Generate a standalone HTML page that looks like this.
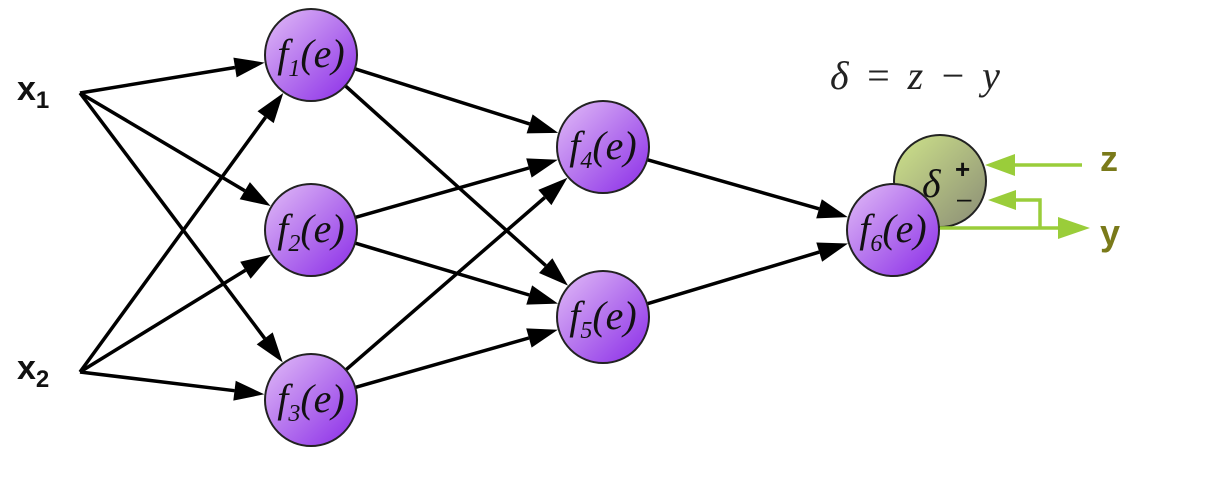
<!DOCTYPE html>
<html><head><meta charset="utf-8"><style>
html,body{margin:0;padding:0;background:#fff;width:1210px;height:482px;overflow:hidden}
</style></head><body>
<svg width="1210" height="482" xmlns="http://www.w3.org/2000/svg">
<defs>
<linearGradient id="pg" x1="0" y1="0" x2="1" y2="1">
<stop offset="0" stop-color="#e2bdf7"/><stop offset="0.5" stop-color="#b574ee"/><stop offset="1" stop-color="#8a2be8"/>
</linearGradient>
<linearGradient id="gg" x1="0" y1="0" x2="1" y2="1">
<stop offset="0" stop-color="#cfe48a"/><stop offset="1" stop-color="#8a8c76"/>
</linearGradient>
</defs>
<g stroke="#000" stroke-width="3.5">
<line x1="80" y1="93" x2="235" y2="67.5"/>
<line x1="80" y1="93" x2="244.8" y2="190.7"/>
<line x1="80" y1="93" x2="264.7" y2="338.4"/>
<line x1="80" y1="372" x2="265.6" y2="117.2"/>
<line x1="80" y1="372" x2="245.4" y2="270.3"/>
<line x1="80" y1="372" x2="234.5" y2="390.7"/>
<line x1="354.9" y1="68.8" x2="529.6" y2="123.9"/>
<line x1="345.2" y1="85.7" x2="545.7" y2="265.6"/>
<line x1="355.2" y1="217.4" x2="528.9" y2="168"/>
<line x1="355.1" y1="243.1" x2="529.2" y2="295"/>
<line x1="345.8" y1="369.9" x2="544.8" y2="197.5"/>
<line x1="355.2" y1="387.4" x2="528.9" y2="338"/>
<line x1="647.2" y1="159.7" x2="819" y2="208.8"/>
<line x1="647.1" y1="303.8" x2="819.2" y2="252.1"/>
</g>
<g fill="#000">
<polygon points="264.6,62.6 236.6,77.4 233.4,57.6"/>
<polygon points="270.6,206 239.7,199.3 249.9,182.1"/>
<polygon points="282.7,362.4 256.7,344.4 272.7,332.4"/>
<polygon points="283.3,93 273.7,123.1 257.5,111.3"/>
<polygon points="271,254.6 250.6,278.8 240.2,261.8"/>
<polygon points="264.3,394.3 233.3,400.6 235.7,380.8"/>
<polygon points="558.2,132.9 526.6,133.4 532.6,114.4"/>
<polygon points="568,285.6 539,273 552.4,258.2"/>
<polygon points="557.8,159.8 531.6,177.6 526.2,158.4"/>
<polygon points="558,303.6 526.3,304.6 532.1,285.4"/>
<polygon points="567.5,177.8 551.4,205.1 538.3,189.9"/>
<polygon points="557.8,329.8 531.6,347.6 526.2,328.4"/>
<polygon points="847.8,217.1 816.2,218.4 821.8,199.2"/>
<polygon points="848,243.5 822.1,261.7 816.3,242.5"/>
</g>
<g font-family="Liberation Sans, sans-serif" font-weight="bold" font-size="34" fill="#111">
<text x="17" y="100">x<tspan font-size="24" dy="8">1</tspan></text>
<text x="17" y="379">x<tspan font-size="24" dy="8">2</tspan></text>
</g>
<text x="830" y="89" font-family="Liberation Serif, serif" font-style="italic" font-size="40" letter-spacing="3" fill="#222">δ = z − y</text>
<circle cx="940" cy="181" r="46" fill="url(#gg)" stroke="#222" stroke-width="2"/>
<text x="922" y="197" font-family="Liberation Serif, serif" font-style="italic" font-size="40" fill="#111">δ</text>
<text x="955" y="178" font-family="Liberation Sans, sans-serif" font-weight="bold" font-size="26" fill="#111">+</text>
<text x="957" y="207" font-family="Liberation Sans, sans-serif" font-size="26" fill="#111">–</text>
<g stroke="#9acd3a" stroke-width="3.5" fill="none">
<line x1="1082" y1="165" x2="1010" y2="165"/>
<polyline points="940,228 1060,228"/>
<polyline points="1040,228 1040,200 1012,200"/>
</g>
<g fill="#9acd3a">
<polygon points="985,165 1015,154 1015,176"/>
<polygon points="988,200 1016,190 1016,210"/>
<polygon points="1090,228 1058,217 1058,239"/>
</g>
<g font-family="Liberation Sans, sans-serif" font-weight="bold" font-size="36" fill="#7a7a1a">
<text x="1100" y="171">z</text><text x="1100" y="245">y</text>
</g>
<g stroke="#222" stroke-width="2" fill="url(#pg)">
<circle cx="311" cy="55" r="46"/>
<circle cx="311" cy="230" r="46"/>
<circle cx="311" cy="400" r="46"/>
<circle cx="603" cy="147" r="46"/>
<circle cx="603" cy="317" r="46"/>
<circle cx="893" cy="230" r="46"/>
</g>
<g font-family="Liberation Serif, serif" font-style="italic" font-size="40" fill="#111" text-anchor="middle">
<text x="311" y="67">f<tspan font-size="24" dy="9">1</tspan><tspan dy="-9">(e)</tspan></text>
<text x="311" y="242">f<tspan font-size="24" dy="9">2</tspan><tspan dy="-9">(e)</tspan></text>
<text x="311" y="412">f<tspan font-size="24" dy="9">3</tspan><tspan dy="-9">(e)</tspan></text>
<text x="603" y="159">f<tspan font-size="24" dy="9">4</tspan><tspan dy="-9">(e)</tspan></text>
<text x="603" y="329">f<tspan font-size="24" dy="9">5</tspan><tspan dy="-9">(e)</tspan></text>
<text x="893" y="242">f<tspan font-size="24" dy="9">6</tspan><tspan dy="-9">(e)</tspan></text>
</g>
</svg>
</body></html>
